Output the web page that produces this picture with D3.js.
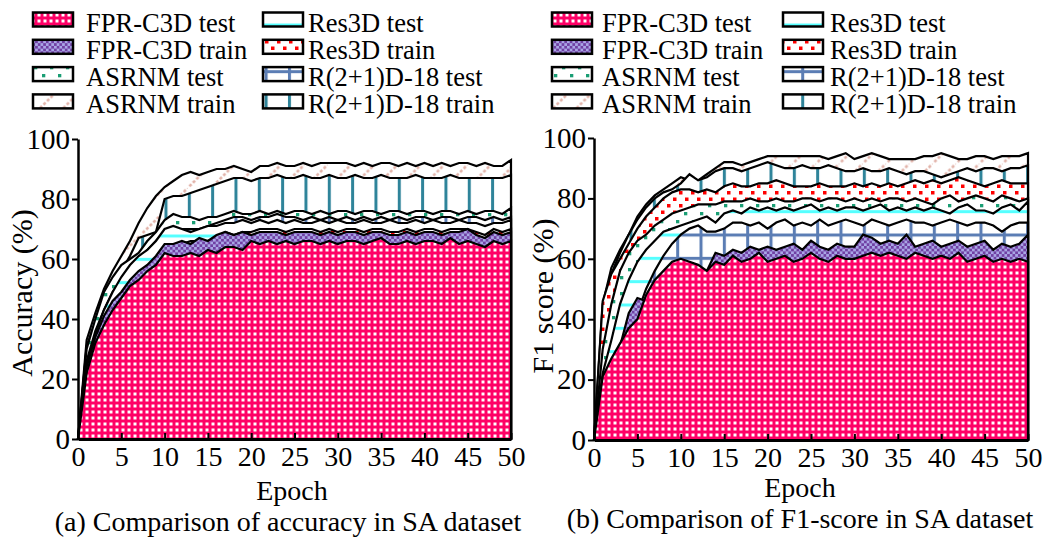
<!DOCTYPE html>
<html>
<head>
<meta charset="utf-8">
<script src="https://cdn.jsdelivr.net/npm/d3@7"></script>
<style>
  body { margin: 0; background: #fff; }
  svg text { font-family: "Liberation Serif", "Times New Roman", serif; font-size: 28px; fill: #000; }
  svg text.legend { font-size: 26.5px; }
  svg text.ytitle { font-size: 30px; }
  svg .yaxis text { font-size: 29px; }
</style>
</head>
<body>
<div id="figure"></div>
<script>

var epochs = d3.range(0, 51);

var seriesNames = ["FPR-C3D test", "FPR-C3D train", "ASRNM test", "ASRNM train",
                   "Res3D test", "Res3D train", "R(2+1)D-18 test", "R(2+1)D-18 train"];
var patternKeys = ["pink", "purple", "green", "diag", "cyan", "red", "grid", "vert"];
var yTicks = [0, 20, 40, 60, 80, 100];
var xTicks = [0, 5, 10, 15, 20, 25, 30, 35, 40, 45, 50];

// (a) accuracy
var accFprTest  = [0,22,32,38,43,47,51,53,56,58,62, 61,61,62,61,63,62,64,64,63,66, 65,66,65,66,65,66,66,65,66,65, 66,66,65,66,67,65,65,66,65,66, 66,65,67,65,66,65,64,66,65,66];
var accFprTrain = [0,24,34,41,46,49,53,56,58,61,65, 65,66,65,67,66,68,69,68,69,68, 69,69,69,68,69,69,69,68,69,68, 69,69,68,69,69,68,68,69,68,69, 69,68,69,69,70,68,67,69,68,69];
var accAsrTest  = [0,30,40,49,54,58,60,62,66,69,73, 75,74,74,73,74,74,75,76,75,75, 76,75,76,75,76,76,75,76,75,76, 76,75,76,76,75,76,76,75,76,76, 75,76,76,75,76,75,76,76,75,77];
var accAsrTrain = [0,33,42,50,56,61,66,72,77,81,84, 86,88,89,88,89,90,90,91,90,89, 91,91,92,91,91,92,91,92,92,92, 92,91,92,91,92,92,91,92,91,92, 91,92,91,92,92,91,92,91,91,93];
var accResTest  = [0,25,35,43,49,54,58,61,63,66,70, 71,70,69,70,71,71,72,72,73,72, 73,72,73,72,73,72,72,73,72,73, 72,72,73,72,72,73,72,72,73,72, 73,72,72,73,72,72,71,72,72,73];
var accResTrain = [0,23,33,40,45,48,52,55,57,60,64, 65,65,66,66,66,67,69,68,69,69, 70,70,70,69,70,70,70,69,70,69, 70,70,69,70,70,69,69,70,69,70, 70,69,70,70,70,69,68,70,69,70];
var accR21Test  = [0,26,36,43,49,53,57,60,63,66,69, 70,70,70,70,71,72,73,74,74,73, 74,74,75,74,74,73,74,73,74,73, 74,73,74,73,74,73,74,73,74,74, 73,74,74,73,74,74,73,74,73,74];
var accR21Train = [0,31,39,46,52,56,61,67,68,69,80, 81,81,82,83,84,85,86,87,87,86, 87,87,88,87,87,88,87,87,88,87, 87,88,87,87,88,87,87,87,88,87, 87,87,88,87,87,87,87,87,87,88];

// (b) F1 score
var f1FprTest  = [0,21,27,32,37,40,48,53,56,59,60, 59,58,56,59,58,61,59,60,62,59, 60,61,59,60,62,60,59,61,60,60, 61,62,61,62,61,60,62,61,60,61, 60,62,59,60,61,59,60,59,60,59];
var f1FprTrain = [0,20,26,31,42,47,46,52,55,58,59, 58,57,56,62,61,63,62,64,63,64, 63,64,65,63,66,64,63,65,64,64, 68,67,65,66,65,68,64,65,66,64, 65,66,64,65,66,63,65,64,65,68];
var f1AsrTest  = [0,30,45,56,62,66,68,71,73,75,76, 77,78,78,78,79,79,79,80,79,79, 80,79,79,80,80,79,80,80,79,80, 79,80,79,80,80,79,80,79,78,80, 81,79,80,81,80,79,81,80,79,80];
var f1AsrTrain = [0,45,57,63,68,74,78,81,83,85,87, 86,86,88,90,92,92,91,92,93,94, 94,94,94,94,94,94,93,94,95,93, 94,95,94,93,93,93,93,94,94,95, 94,93,93,94,94,93,94,94,94,95];
var f1ResTest  = [0,22,33,45,53,59,63,66,69,70,71, 72,73,74,72,75,76,75,77,76,77, 76,77,76,77,78,76,77,76,77,77, 76,77,78,76,77,76,77,76,77,76, 75,77,78,76,76,75,77,78,76,79];
var f1ResTrain = [0,46,55,60,65,70,74,77,80,82,83, 83,82,83,82,84,85,84,84,85,85, 86,85,84,84,84,85,84,84,84,85, 84,85,84,85,84,85,86,85,86,85, 86,87,86,85,84,85,86,85,85,85];
var f1R21Test  = [0,16,24,30,36,42,50,56,61,65,68, 70,71,69,69,70,72,72,71,72,70, 72,73,71,72,71,73,71,72,73,72, 71,73,72,71,72,73,72,72,71,72, 73,72,71,72,72,71,69,71,72,72];
var f1R21Train = [0,40,55,62,68,73,77,80,82,83,85, 88,86,87,89,90,90,89,90,91,92, 91,90,90,91,90,90,91,90,89,89, 90,89,89,90,89,88,89,89,88,87, 88,89,90,89,90,90,89,90,90,91];

var width = 1049, height = 540;

var svg = d3.select("#figure").append("svg")
    .attr("width", width)
    .attr("height", height);

var defs = svg.append("defs");

// patterns live in user space so stripes line up across areas
function addPatterns(id, dx, dy) {
  var P = 23.33, p;

  p = defs.append("pattern").attr("id", id + "-pink")
      .attr("patternUnits", "userSpaceOnUse").attr("width", 6).attr("height", 6);
  p.append("rect").attr("width", 6).attr("height", 6).attr("fill", "#ff0066");
  p.append("rect").attr("x", 1.5).attr("y", 1.5).attr("width", 3).attr("height", 3).attr("fill", "#fff");

  p = defs.append("pattern").attr("id", id + "-purple")
      .attr("patternUnits", "userSpaceOnUse").attr("width", 5.4).attr("height", 5.4);
  p.append("rect").attr("width", 5.4).attr("height", 5.4).attr("fill", "#a9a6e6");
  p.append("rect").attr("width", 2.7).attr("height", 2.7).attr("fill", "#7040a3");
  p.append("rect").attr("x", 2.7).attr("y", 2.7).attr("width", 2.7).attr("height", 2.7).attr("fill", "#7040a3");

  p = defs.append("pattern").attr("id", id + "-red")
      .attr("patternUnits", "userSpaceOnUse").attr("width", 12).attr("height", 13);
  p.append("rect").attr("width", 12).attr("height", 13).attr("fill", "#fff");
  p.append("rect").attr("x", 1).attr("y", 1).attr("width", 3.5).attr("height", 3.5).attr("fill", "#ff0000");
  p.append("rect").attr("x", 7).attr("y", 7.5).attr("width", 3.5).attr("height", 3.5).attr("fill", "#ff0000");

  p = defs.append("pattern").attr("id", id + "-green")
      .attr("patternUnits", "userSpaceOnUse").attr("width", 16).attr("height", 16);
  p.append("rect").attr("width", 16).attr("height", 16).attr("fill", "#fff");
  p.append("rect").attr("x", 2).attr("y", 2).attr("width", 3.3).attr("height", 3.3).attr("fill", "#1a9e74");
  p.append("rect").attr("x", 10).attr("y", 10).attr("width", 3.3).attr("height", 3.3).attr("fill", "#1a9e74");

  p = defs.append("pattern").attr("id", id + "-diag")
      .attr("patternUnits", "userSpaceOnUse").attr("width", P).attr("height", P)
      .attr("x", dx).attr("y", dy);
  p.append("rect").attr("width", P).attr("height", P).attr("fill", "#fff");
  p.append("path").attr("d", "M-2," + (P + 2) + "L" + (P + 2) + ",-2")
      .attr("stroke", "#e2b3a9").attr("stroke-width", 2.6).attr("stroke-dasharray", "3,2");

  p = defs.append("pattern").attr("id", id + "-cyan")
      .attr("patternUnits", "userSpaceOnUse").attr("width", P).attr("height", P)
      .attr("x", dx).attr("y", dy);
  p.append("rect").attr("width", P).attr("height", P).attr("fill", "#fff");
  p.append("rect").attr("width", P).attr("height", 3).attr("fill", "#55ffff");

  p = defs.append("pattern").attr("id", id + "-grid")
      .attr("patternUnits", "userSpaceOnUse").attr("width", P).attr("height", P)
      .attr("x", dx).attr("y", dy);
  p.append("rect").attr("width", P).attr("height", P).attr("fill", "#fff");
  p.append("rect").attr("width", P).attr("height", 3).attr("fill", "#5b7db4");
  p.append("rect").attr("width", 3).attr("height", P).attr("fill", "#5b7db4");

  p = defs.append("pattern").attr("id", id + "-vert")
      .attr("patternUnits", "userSpaceOnUse").attr("width", P).attr("height", P)
      .attr("x", dx).attr("y", dy);
  p.append("rect").attr("width", P).attr("height", P).attr("fill", "#fff");
  p.append("rect").attr("width", 3).attr("height", P).attr("fill", "#2f849a");
}

addPatterns("pa", 16.5, 2.2);
addPatterns("pb", 12.2, 2.2);
addPatterns("lg", 8, 0.2);

var panels = [
  {
    id: "pa", left: 78, right: 511, top: 139, bottom: 439,
    data: [accFprTest, accFprTrain, accAsrTest, accAsrTrain, accResTest, accResTrain, accR21Test, accR21Train],
    order: [3, 7, 2, 6, 4, 5, 1, 0],
    yTitle: "Accuracy (%)", yTitleX: 32, yTitleY: 293,
    xTitleX: 292, xTitleY: 500,
    caption: "(a) Comparison of accuracy in SA dataset", capX: 288, capY: 531,
    legend: { sw1: 33, tx1: 86, sw2: 263, tx2: 308 }
  },
  {
    id: "pb", left: 594, right: 1028, top: 138, bottom: 440,
    data: [f1FprTest, f1FprTrain, f1AsrTest, f1AsrTrain, f1ResTest, f1ResTrain, f1R21Test, f1R21Train],
    order: [3, 7, 5, 2, 4, 6, 1, 0],
    yTitle: "F1 score (%)", yTitleX: 553, yTitleY: 296,
    xTitleX: 800, xTitleY: 497,
    caption: "(b) Comparison of F1-score in SA dataset", capX: 800, capY: 528,
    legend: { sw1: 552, tx1: 602, sw2: 783, tx2: 830 }
  }
];

panels.forEach(function(cfg) {
  var w = cfg.right - cfg.left,
      h = cfg.bottom - cfg.top;

  var x = d3.scaleLinear().domain([0, 50]).range([0, w]);
  var y = d3.scaleLinear().domain([0, 100]).range([h, 0]);

  var g = svg.append("g")
      .attr("transform", "translate(" + cfg.left + "," + cfg.top + ")");

  var area = d3.area()
      .x(function(d, i) { return x(epochs[i]); })
      .y0(y(0))
      .y1(function(d) { return y(d); });

  // back to front
  cfg.order.forEach(function(k) {
    g.append("path")
      .datum(cfg.data[k])
      .attr("d", area)
      .attr("fill", "url(#" + cfg.id + "-" + patternKeys[k] + ")")
      .attr("stroke", "#000")
      .attr("stroke-width", 2.2);
  });

  var yAxis = g.append("g")
      .attr("class", "yaxis")
      .call(d3.axisLeft(y).tickValues(yTicks).tickSize(6).tickSizeOuter(0).tickPadding(2));
  yAxis.select(".domain").attr("stroke-width", 2.5);
  yAxis.selectAll(".tick line").attr("stroke-width", 2);

  var xAxis = g.append("g")
      .attr("transform", "translate(0," + h + ")")
      .call(d3.axisBottom(x).tickValues(xTicks).tickSize(-6).tickSizeOuter(0).tickPadding(7));
  xAxis.select(".domain").attr("stroke-width", 3);
  xAxis.selectAll(".tick line").attr("stroke-width", 2);

  svg.append("text")
    .attr("class", "ytitle")
    .attr("transform", "translate(" + cfg.yTitleX + "," + cfg.yTitleY + ") rotate(-90)")
    .attr("text-anchor", "middle")
    .text(cfg.yTitle);

  svg.append("text")
    .attr("x", cfg.xTitleX).attr("y", cfg.xTitleY)
    .attr("text-anchor", "middle")
    .text("Epoch");

  svg.append("text")
    .attr("x", cfg.capX).attr("y", cfg.capY)
    .attr("text-anchor", "middle")
    .text(cfg.caption);

  // legend, two columns of four
  var leg = svg.append("g");
  seriesNames.forEach(function(name, k) {
    var col = k < 4 ? 0 : 1,
        row = k % 4,
        base = 31.5 + row * 27.3;
    leg.append("rect")
      .attr("x", col ? cfg.legend.sw2 : cfg.legend.sw1)
      .attr("y", base - 19)
      .attr("width", 40).attr("height", 14)
      .attr("fill", "url(#lg-" + patternKeys[k] + ")")
      .attr("stroke", "#000").attr("stroke-width", 2.5);
    leg.append("text")
      .attr("class", "legend")
      .attr("x", col ? cfg.legend.tx2 : cfg.legend.tx1)
      .attr("y", base)
      .text(name);
  });
});

</script>
</body>
</html>
